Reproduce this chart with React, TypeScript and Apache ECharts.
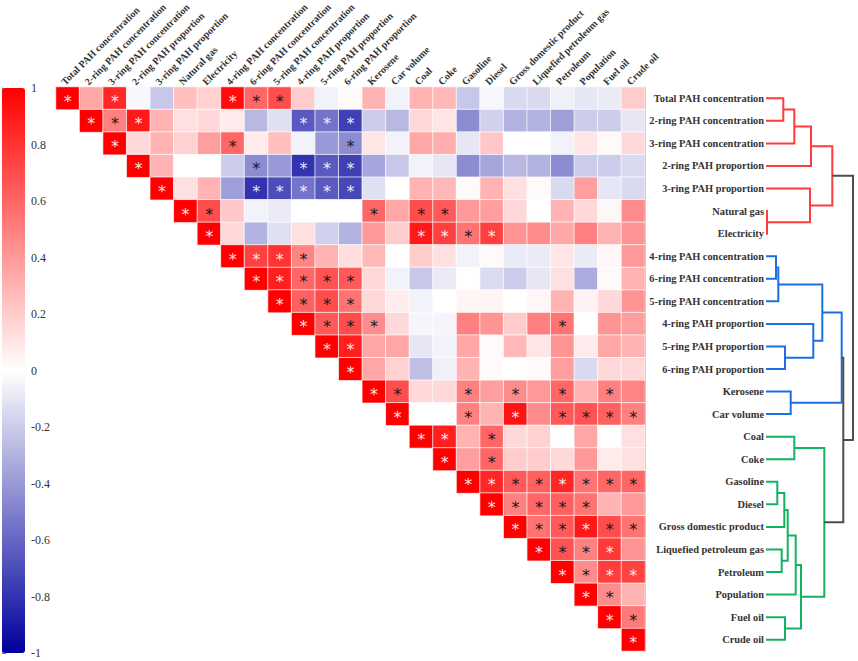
import React, { useEffect, useRef } from 'react';
import * as echarts from 'echarts';

const VARIABLES = [
  'Total PAH concentration', '2-ring PAH concentration', '3-ring PAH concentration',
  '2-ring PAH proportion', '3-ring PAH proportion', 'Natural gas', 'Electricity',
  '4-ring PAH concentration', '6-ring PAH concentration', '5-ring PAH concentration',
  '4-ring PAH proportion', '5-ring PAH proportion', '6-ring PAH proportion',
  'Kerosene', 'Car volume', 'Coal', 'Coke', 'Gasoline', 'Diesel',
  'Gross domestic product', 'Liquefied petroleum gas', 'Petroleum', 'Population',
  'Fuel oil', 'Crude oil',
];

// Each row starts at its diagonal cell (upper triangle)
const R00 = [1, 0.35, 0.85, -0.03, -0.22, 0.25, 0.18, 0.95, 0.6, 0.7, 0.2, -0.05, 0.02, 0.3, -0.05, 0.3, 0.28, -0.22, -0.03, -0.15, -0.15, -0.06, -0.1, -0.08, 0.2];
const R01 = [1, 0.5, 0.9, 0.3, 0.12, 0.15, 0.08, -0.28, -0.12, -0.65, -0.55, -0.75, -0.2, -0.28, 0.15, 0.1, -0.45, -0.18, -0.3, -0.3, -0.38, -0.2, -0.2, -0.1];
const R02 = [1, 0.15, 0.3, 0.18, 0.38, 0.6, 0.08, 0.25, -0.05, -0.4, -0.45, 0.1, -0.05, 0.35, 0.32, -0.1, 0.22, 0, 0, -0.05, 0.1, 0.02, 0.15];
const R03 = [1, 0.3, 0, 0, -0.2, -0.45, -0.4, -0.8, -0.65, -0.75, -0.35, -0.22, -0.05, -0.1, -0.45, -0.35, -0.28, -0.3, -0.45, -0.2, -0.2, -0.15];
const R04 = [1, 0.12, 0.3, -0.38, -0.8, -0.7, -0.55, -0.65, -0.72, -0.12, 0, 0.3, 0.28, 0.02, 0.3, 0.12, 0.02, -0.15, 0.38, -0.1, -0.15];
const R05 = [1, 0.7, 0.22, -0.05, -0.08, 0, 0, 0, 0.6, 0.35, 0.7, 0.65, 0.4, 0.38, 0.15, 0, 0.3, 0.15, 0.03, 0.45];
const R06 = [1, 0.15, -0.3, -0.12, 0.12, -0.18, -0.3, 0.4, 0.2, 0.9, 0.75, 0.55, 0.75, 0.42, 0.45, 0.35, 0.5, 0.3, 0.42];
const R07 = [1, 0.75, 0.8, 0.48, 0.3, 0.13, 0.28, 0, 0.2, 0.12, -0.05, 0.02, -0.08, -0.08, 0.1, -0.08, 0.03, 0.4];
const R08 = [1, 0.88, 0.6, 0.68, 0.65, 0.15, -0.05, -0.22, -0.08, 0, -0.14, -0.2, -0.1, 0.12, -0.33, 0.02, 0.3];
const R09 = [1, 0.62, 0.7, 0.55, 0.15, 0.07, -0.05, 0, 0.04, 0.04, 0, 0.03, 0.3, 0.05, 0.15, 0.42];
const R10 = [1, 0.65, 0.7, 0.45, 0.15, -0.04, -0.04, 0.5, 0.42, 0.2, 0.5, 0.55, 0, 0.42, 0.38];
const R11 = [1, 0.88, 0.35, 0.35, -0.1, -0.05, 0.35, 0.02, 0.28, 0.1, 0.42, 0.08, 0.35, 0.3];
const R12 = [1, 0.35, 0.18, -0.25, -0.06, 0.3, 0.02, 0, 0.02, 0.38, -0.15, 0.15, 0.15];
const R13 = [1, 0.7, 0.15, 0.15, 0.5, 0.38, 0.45, 0.4, 0.6, 0.3, 0.5, 0.48];
const R14 = [1, 0, 0, 0.5, 0.3, 0.92, 0.45, 0.65, 0.68, 0.62, 0.5];
const R15 = [1, 0.88, 0.3, 0.6, 0.15, 0.18, 0, 0.35, 0, 0.12];
const R16 = [1, 0.38, 0.6, 0.2, 0.2, 0.15, 0.4, 0.08, 0.12];
const R17 = [1, 0.85, 0.65, 0.62, 0.85, 0.55, 0.6, 0.6];
const R18 = [1, 0.5, 0.6, 0.62, 0.55, 0.3, 0.4];
const R19 = [1, 0.55, 0.65, 0.9, 0.7, 0.55];
const R20 = [1, 0.68, 0.5, 0.78, 0.42];
const R21 = [1, 0.45, 0.76, 0.74];
const R22 = [1, 0.45, 0.3];
const R23 = [1, 0.52];
const R24 = [1];
const CORR_ROWS = [R00, R01, R02, R03, R04, R05, R06, R07, R08, R09, R10, R11, R12, R13, R14, R15, R16, R17, R18, R19, R20, R21, R22, R23, R24];

// Significant cells (column indices) per row
const SIG_ROWS = [
  [0, 2, 7, 8, 9],
  [1, 2, 3, 10, 11, 12],
  [2, 7, 12],
  [3, 8, 10, 11, 12],
  [4, 8, 9, 10, 11, 12],
  [5, 6, 13, 15, 16],
  [6, 15, 16, 17, 18],
  [7, 8, 9, 10],
  [8, 9, 10, 11, 12],
  [9, 10, 11, 12],
  [10, 11, 12, 13, 21],
  [11, 12],
  [12],
  [13, 14, 17, 19, 21, 23],
  [14, 17, 19, 21, 22, 23, 24],
  [15, 16, 18],
  [16, 18],
  [17, 18, 19, 20, 21, 22, 23, 24],
  [18, 19, 20, 21, 22],
  [19, 20, 21, 22, 23, 24],
  [20, 21, 22, 23],
  [21, 22, 23, 24],
  [22, 23],
  [23, 24],
  [24],
];

const COLORBAR_TICKS = [-1, -0.8, -0.6, -0.4, -0.2, 0, 0.2, 0.4, 0.6, 0.8, 1];

// Dendrogram merges: [childA, childB, height, cluster]; ids >= 25 refer to earlier merges
const DENDRO_MERGES: [number, number, number, number][] = [
  [0, 1, 17.3, 0], [25, 2, 28.3, 0], [26, 3, 45, 0], [5, 6, 1, 0], [4, 28, 44, 0], [27, 29, 66.3, 0],
  [7, 8, 10, 1], [31, 9, 12.3, 1], [11, 12, 19, 1], [10, 33, 47.3, 1], [32, 34, 56.3, 1], [13, 14, 24.7, 1], [35, 36, 75.7, 1],
  [15, 16, 28.3, 2], [17, 18, 11.3, 2], [39, 19, 18.3, 2], [20, 21, 15.7, 2], [40, 41, 21.7, 2], [42, 22, 29.7, 2],
  [23, 24, 19, 2], [43, 44, 35, 2], [38, 45, 58.3, 2],
  [37, 46, 77.3, 3], [30, 47, 87, 3],
];
const CLUSTER_COLORS = ['#ff3b3b', '#1c6fe3', '#13b162', '#4d4d4d'];

const SERIF = '"Liberation Serif", "Times New Roman", serif';
const LABEL_FONT_SIZE = 10.4;
const TOP_LABEL_FONT_SIZE = 10;

function buildHeatmapData() {
  const out: any[] = [];
  CORR_ROWS.forEach((row, r) => {
    row.forEach((v, k) => {
      const c = r + k;
      const sig = SIG_ROWS[r].includes(c);
      const white = v >= 0.72 || v <= -0.5;
      out.push({
        value: [c, r, v],
        label: {
          show: sig,
          color: white ? 'rgba(255,255,255,0.9)' : '#1a1a1a',
        },
      });
    });
  });
  return out;
}

function buildDendroLinks() {
  const n = VARIABLES.length;
  const pos: number[] = [];
  const hgt: number[] = [];
  for (let i = 0; i < n; i++) { pos[i] = i; hgt[i] = 0; }
  const links: number[][] = [];
  DENDRO_MERGES.forEach(([a, b, h, cl], k) => {
    const id = n + k;
    links.push([h, pos[a], pos[b], hgt[a], hgt[b], cl]);
    pos[id] = (pos[a] + pos[b]) / 2;
    hgt[id] = h;
  });
  return links;
}

export default function App() {
  const ref = useRef<HTMLDivElement>(null);
  useEffect(() => {
    document.body.style.margin = '0';
    if (!ref.current) return;
    const chart = echarts.init(ref.current, null, { renderer: 'svg' });
    const option: any = {
      animation: false,
      backgroundColor: '#ffffff',
      grid: [
        { left: 56, top: 87, width: 589, height: 564, outerBoundsMode: 'none', containLabel: false },
        { left: 2, top: 88, width: 23, height: 565, outerBoundsMode: 'none', containLabel: false },
        { left: 766, top: 87, width: 90, height: 564, outerBoundsMode: 'none', containLabel: false },
      ],
      xAxis: [
        {
          type: 'category', gridIndex: 0, position: 'top', data: VARIABLES,
          axisLine: { show: true, lineStyle: { color: '#8a8a8a', width: 1 } },
          axisTick: { show: false },
          axisLabel: { show: false },
          splitLine: { show: false },
        },
        { type: 'value', gridIndex: 1, show: false, min: 0, max: 1 },
        { type: 'value', gridIndex: 2, show: false, min: 0, max: 90 },
      ],
      yAxis: [
        {
          type: 'category', gridIndex: 0, position: 'right', inverse: true, data: VARIABLES,
          axisLine: { show: true, lineStyle: { color: '#8a8a8a', width: 1 } },
          axisTick: { show: false },
          axisLabel: {
            interval: 0, margin: 119, align: 'right',
            fontFamily: SERIF, fontSize: LABEL_FONT_SIZE, fontWeight: 'bold', color: '#333',
          },
          splitLine: { show: false },
        },
        {
          type: 'value', gridIndex: 1, position: 'right', min: -1, max: 1, interval: 0.2,
          axisLine: { show: true, lineStyle: { color: '#777', width: 1 } },
          axisTick: { show: true, length: 4, lineStyle: { color: '#777' } },
          axisLabel: {
            margin: 6, fontFamily: SERIF, fontSize: 12, color: '#333',
            formatter: (v: number) => {
              const t = COLORBAR_TICKS.find((x) => Math.abs(x - v) < 1e-6);
              return t === undefined ? '' : String(t);
            },
          },
          splitLine: { show: false },
        },
        { type: 'value', gridIndex: 2, show: false, min: -0.5, max: 24.5, inverse: true },
      ],
      visualMap: {
        type: 'continuous', min: -1, max: 1, seriesIndex: 0,
        show: true, calculable: false, realtime: false,
        itemWidth: 23, itemHeight: 565, left: 2, top: 88, padding: 0,
        inRange: { color: ['#00009c', '#ffffff', '#ff0000'] },
        hoverLink: false,
      },
      series: [
        {
          type: 'heatmap', xAxisIndex: 0, yAxisIndex: 0,
          data: buildHeatmapData(),
          itemStyle: { borderColor: 'rgba(255,255,255,0.7)', borderWidth: 1 },
          label: {
            show: false, formatter: '*',
            fontFamily: '"DejaVu Sans", sans-serif', fontSize: 16, offset: [0, 3],
          },
          emphasis: { disabled: true },
        },
        {
          type: 'custom', xAxisIndex: 2, yAxisIndex: 2, coordinateSystem: 'cartesian2d',
          data: buildDendroLinks(),
          encode: { x: 0, y: 1 },
          clip: false,
          silent: true,
          renderItem: (params: any, api: any) => {
            const h = api.value(0), yA = api.value(1), yB = api.value(2);
            const hA = api.value(3), hB = api.value(4), cl = api.value(5);
            const pts = [
              api.coord([hA, yA]), api.coord([h, yA]),
              api.coord([h, yB]), api.coord([hB, yB]),
            ];
            return {
              type: 'polyline',
              shape: { points: pts },
              style: { stroke: CLUSTER_COLORS[cl], lineWidth: 2, fill: null },
            };
          },
        },
      ],
    };
    chart.setOption(option);

    // Rotated column labels, placed at each column through the axis scale
    const topY = chart.convertToPixel({ yAxisIndex: 2 }, -0.5) as number;
    const labels = VARIABLES.map((name, i) => {
      const cx = chart.convertToPixel({ xAxisIndex: 0 }, i) as number;
      return {
        type: 'text',
        x: cx - 5,
        y: topY - 3.8,
        rotation: Math.PI / 4,
        silent: true,
        style: {
          text: name,
          fontFamily: SERIF,
          fontSize: TOP_LABEL_FONT_SIZE,
          fontWeight: 'bold',
          fill: '#333',
          align: 'left',
          verticalAlign: 'middle',
        },
      };
    });
    chart.setOption({ graphic: labels });
    return () => chart.dispose();
  }, []);
  return <div ref={ref} style={{ width: 858, height: 661 }} />;
}
